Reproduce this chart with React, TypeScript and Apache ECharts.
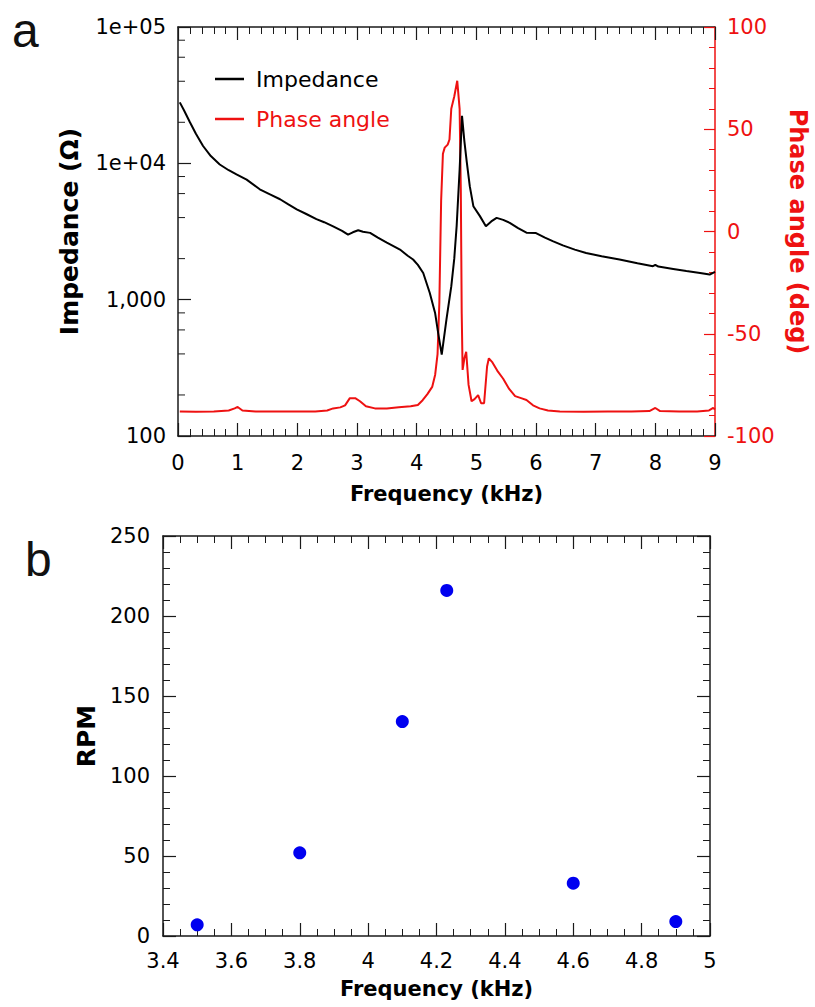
import React, { useEffect, useRef } from "react";
import * as echarts from "echarts";

// ---------- Panel a: impedance spectrum ----------
const freqZ = [
  0.03, 0.1, 0.2, 0.3, 0.42, 0.55, 0.7, 0.85, 0.98, 1.15,
  1.37, 1.55, 1.71, 1.85, 1.99, 2.15, 2.32, 2.45, 2.6, 2.75,
  2.85, 2.93, 3.02, 3.1, 3.22, 3.35, 3.5, 3.65, 3.72, 3.85,
  3.94, 4.02, 4.11, 4.22, 4.31, 4.36, 4.42, 4.5, 4.58, 4.63,
  4.67, 4.72, 4.76, 4.8, 4.84, 4.89, 4.95, 5.06, 5.16, 5.25,
  5.34, 5.45, 5.56, 5.7, 5.84, 6.0, 6.15, 6.28, 6.45, 6.65,
  6.84, 7.1, 7.4, 7.7, 7.96, 8.0, 8.05, 8.3, 8.52, 8.75,
  8.91, 9.0,
];
const impedance = [
  28000, 24500, 20000, 16500, 13400, 11300, 9800, 8900, 8300, 7600,
  6450, 5900, 5450, 5000, 4600, 4250, 3900, 3700, 3450, 3200,
  3000, 3120, 3230, 3150, 3090, 2850, 2620, 2420, 2330, 2100,
  1970, 1800, 1570, 1120, 794, 570, 395, 720, 1250, 2000,
  3460, 9000, 22300, 14500, 10200, 6800, 4850, 4100, 3460, 3750,
  3980, 3850, 3660, 3350, 3100, 3080, 2850, 2690, 2500, 2330,
  2200, 2080, 1970, 1850, 1760, 1800, 1750, 1680, 1620, 1570,
  1527, 1600,
];

const freqP = [
  0.03, 0.3, 0.6, 0.85, 0.95, 1.0, 1.08, 1.3, 1.8, 2.3,
  2.5, 2.6, 2.72, 2.8, 2.88, 2.97, 3.05, 3.15, 3.3, 3.5,
  3.7, 3.9, 4.02, 4.1, 4.18, 4.26, 4.31, 4.35, 4.38, 4.41,
  4.44, 4.47, 4.52, 4.55, 4.58, 4.63, 4.68, 4.72, 4.74, 4.755,
  4.77, 4.8, 4.83, 4.87, 4.92, 4.97, 5.03, 5.08, 5.13, 5.18,
  5.21, 5.27, 5.35, 5.45, 5.55, 5.65, 5.75, 5.84, 5.95, 6.06,
  6.2, 6.4, 6.8, 7.2, 7.6, 7.9, 8.0, 8.08, 8.4, 8.7,
  8.9, 8.97, 9.0,
];
const phase = [
  -88, -88.2, -88, -87.5, -86.5, -85.8, -87.5, -88, -88, -88,
  -87.5, -86.5, -86, -85, -81.5, -81.5, -83, -85.5, -86.5, -86.5,
  -86, -85.5, -84.8, -82.5, -79.5, -76, -70, -60, -35, 15,
  38, 41, 42.5, 45, 60, 66, 73.7, 60, 20, -40,
  -67.7, -62, -58.8, -75, -83, -82, -80, -84, -84, -66,
  -62, -64, -68, -72, -77, -80.5, -81.5, -82.4, -85, -86.5,
  -87.5, -88, -88.2, -88, -88, -87.8, -86.3, -87.8, -88, -88,
  -87.5, -86.3, -87,
];

const impTickLabels = ["100", "1,000", "1e+04", "1e+05"]; // 10^2 .. 10^5
const logMinorTicks = [
  200, 400, 600, 800, 2000, 4000, 6000, 8000, 20000, 40000, 60000, 80000,
];

// ---------- Panel b: rotation speed ----------
const rpmFreq = [3.5, 3.8, 4.1, 4.23, 4.6, 4.9];
const rpmValue = [7, 52, 134, 216, 33, 9];

const FONT = '"DejaVu Sans", Verdana, sans-serif';
const RED = "#ee1111";
const BLACK = "#1a1a1a";
const BLUE = "#0000f0";

export default function App() {
  const ref = useRef<HTMLDivElement>(null);

  useEffect(() => {
    document.body.style.margin = "0";
    if (!ref.current) return;
    const chart = echarts.init(ref.current, undefined, { renderer: "svg" });

    const axisLineBlack = { show: true, onZero: false, lineStyle: { color: BLACK, width: 1.5 } };
    const labelStyle = { color: "#000", fontSize: 21, fontFamily: FONT };
    const nameBold = (size: number, color = "#000") => ({
      color,
      fontSize: size,
      fontWeight: "bold" as const,
      fontFamily: FONT,
    });

    const mirrorX = (gridIndex: number, min: number, max: number, interval: number, split: number) => ({
      type: "value",
      gridIndex,
      position: "top",
      min,
      max,
      interval,
      axisLine: axisLineBlack,
      axisTick: { show: true, inside: true, length: 13, lineStyle: { color: BLACK, width: 1.2 } },
      minorTick: { show: true, splitNumber: split, length: 7, lineStyle: { color: BLACK, width: 1 } },
      axisLabel: { show: false },
      splitLine: { show: false },
    });

    const option: any = {
      animation: false,
      backgroundColor: "#fff",
      textStyle: { fontFamily: FONT },
      graphic: [
        { type: "text", left: 12, top: 6, style: { text: "a", font: '48px "Liberation Sans", Arial, sans-serif', fill: "#111" } },
        { type: "text", left: 25, top: 535, style: { text: "b", font: '48px "Liberation Sans", Arial, sans-serif', fill: "#111" } },
      ],
      legend: {
        orient: "vertical",
        left: 215,
        top: 68,
        padding: 0,
        icon: "rect",
        itemWidth: 29,
        itemHeight: 2.5,
        itemGap: 18,
        textStyle: { fontSize: 22, fontFamily: FONT },
        formatter: (name: string) => " " + name,
        data: [
          { name: "Impedance", textStyle: { color: "#000" } },
          { name: "Phase angle", textStyle: { color: RED } },
        ],
      },
      grid: [
        { left: 178, top: 27, width: 537, height: 409, outerBoundsMode: "none", containLabel: false },
        { left: 163, top: 536, width: 547, height: 400, outerBoundsMode: "none", containLabel: false },
      ],
      xAxis: [
        {
          type: "value",
          gridIndex: 0,
          position: "bottom",
          min: 0,
          max: 9,
          interval: 1,
          axisLine: axisLineBlack,
          axisTick: { show: true, inside: true, length: 13, lineStyle: { color: BLACK, width: 1.2 } },
          minorTick: { show: true, splitNumber: 5, length: 7, lineStyle: { color: BLACK, width: 1 } },
          axisLabel: { ...labelStyle, margin: 16 },
          splitLine: { show: false },
          name: "Frequency (kHz)",
          nameLocation: "middle",
          nameGap: 47,
          nameTextStyle: nameBold(21),
        },
        mirrorX(0, 0, 9, 1, 5),
        {
          type: "value",
          gridIndex: 1,
          position: "bottom",
          min: 3.4,
          max: 5,
          interval: 0.2,
          axisLine: axisLineBlack,
          axisTick: { show: true, inside: true, length: 13, lineStyle: { color: BLACK, width: 1.2 } },
          minorTick: { show: true, splitNumber: 4, length: 7, lineStyle: { color: BLACK, width: 1 } },
          axisLabel: { ...labelStyle, margin: 14 },
          splitLine: { show: false },
          name: "Frequency (kHz)",
          nameLocation: "middle",
          nameGap: 42,
          nameTextStyle: nameBold(21),
        },
        mirrorX(1, 3.4, 5, 0.2, 4),
      ],
      yAxis: [
        {
          type: "log",
          gridIndex: 0,
          position: "left",
          logBase: 10,
          min: 100,
          max: 100000,
          axisLine: axisLineBlack,
          axisTick: { show: true, inside: true, length: 13, lineStyle: { color: BLACK, width: 1.2 } },
          axisLabel: {
            ...labelStyle,
            margin: 12,
            formatter: (v: number) => impTickLabels[Math.round(Math.log10(v)) - 2] ?? "",
          },
          splitLine: { show: false },
          name: "Impedance (Ω)",
          nameLocation: "middle",
          nameRotate: 90,
          nameGap: 96,
          nameTextStyle: nameBold(25),
        },
        {
          type: "value",
          gridIndex: 0,
          position: "right",
          min: -100,
          max: 100,
          interval: 50,
          axisLine: { show: true, onZero: false, lineStyle: { color: RED, width: 1.5 } },
          axisTick: { show: true, inside: true, length: 11, lineStyle: { color: RED, width: 1.2 } },
          minorTick: { show: true, splitNumber: 5, length: 6, lineStyle: { color: RED, width: 1 } },
          axisLabel: { ...labelStyle, color: RED, margin: 12 },
          splitLine: { show: false },
          name: "Phase angle (deg)",
          nameLocation: "middle",
          nameRotate: -90,
          nameGap: 68,
          nameTextStyle: nameBold(24, RED),
        },
        {
          type: "value",
          gridIndex: 1,
          position: "left",
          min: 0,
          max: 250,
          interval: 50,
          axisLine: axisLineBlack,
          axisTick: { show: true, inside: true, length: 13, lineStyle: { color: BLACK, width: 1.2 } },
          minorTick: { show: true, splitNumber: 5, length: 7, lineStyle: { color: BLACK, width: 1 } },
          axisLabel: { ...labelStyle, margin: 13 },
          splitLine: { show: false },
          name: "RPM",
          nameLocation: "middle",
          nameRotate: 90,
          nameGap: 60,
          nameTextStyle: nameBold(25),
        },
        {
          type: "value",
          gridIndex: 1,
          position: "right",
          min: 0,
          max: 250,
          interval: 50,
          axisLine: axisLineBlack,
          axisTick: { show: true, inside: true, length: 13, lineStyle: { color: BLACK, width: 1.2 } },
          minorTick: { show: true, splitNumber: 5, length: 7, lineStyle: { color: BLACK, width: 1 } },
          axisLabel: { show: false },
          splitLine: { show: false },
        },
      ],
      series: [
        {
          name: "Impedance",
          type: "line",
          xAxisIndex: 0,
          yAxisIndex: 0,
          symbol: "none",
          color: "#000",
          lineStyle: { color: "#000", width: 2 },
          data: freqZ.map((f, i) => [f, impedance[i]]),
          z: 3,
        },
        {
          name: "Phase angle",
          type: "line",
          xAxisIndex: 0,
          yAxisIndex: 1,
          symbol: "none",
          color: RED,
          lineStyle: { color: RED, width: 2 },
          data: freqP.map((f, i) => [f, phase[i]]),
          z: 2,
        },
        {
          name: "logMinor",
          type: "custom",
          xAxisIndex: 0,
          yAxisIndex: 0,
          silent: true,
          data: logMinorTicks.map((v) => [0, v]),
          renderItem: (params: any, api: any) => {
            const pt = api.coord([0, api.value(1)]);
            const x0 = params.coordSys.x;
            return {
              type: "line",
              shape: { x1: x0, y1: pt[1], x2: x0 + 7, y2: pt[1] },
              style: { stroke: BLACK, lineWidth: 1 },
            };
          },
        },
        {
          name: "RPM",
          type: "scatter",
          xAxisIndex: 2,
          yAxisIndex: 2,
          symbol: "circle",
          symbolSize: 13,
          itemStyle: { color: BLUE, opacity: 1 },
          data: rpmFreq.map((f, i) => [f, rpmValue[i]]),
        },
      ],
    };

    chart.setOption(option);
    return () => chart.dispose();
  }, []);

  return <div ref={ref} style={{ width: 815, height: 1007 }} />;
}
